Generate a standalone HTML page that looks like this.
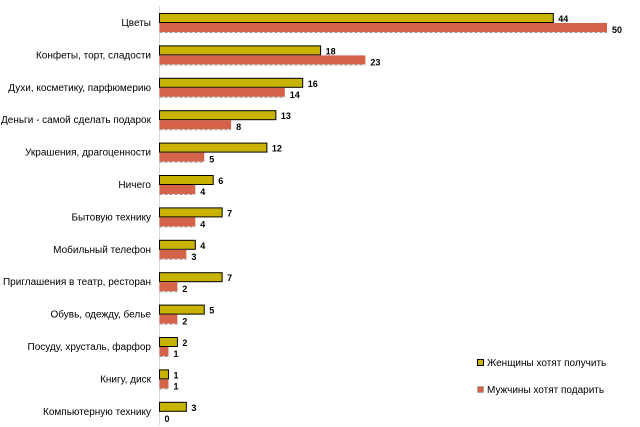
<!DOCTYPE html>
<html><head><meta charset="utf-8"><style>
body{margin:0;background:#fff;}
svg{display:block;font-family:"Liberation Sans",sans-serif;}
</style></head><body>
<svg id="c" width="640" height="427">
<line x1="159.5" y1="6" x2="159.5" y2="425" stroke="#d9d9d9" stroke-width="1"/>
<g id="bars"></g>
<g>
<g>
<rect x="477.5" y="359.5" width="6" height="6" fill="#c8b400" stroke="#000"/>
<text x="487" y="366" font-size="10" fill="#000">Женщины хотят получить</text></g>
<g>
<rect x="477.5" y="386.5" width="6" height="6" fill="#d4634a" stroke="#999" stroke-dasharray="2,1"/>
<text x="487" y="393" font-size="10" fill="#000">Мужчины хотят подарить</text></g>
</g>
</svg>
<script>
const categories=["Цветы","Конфеты, торт, сладости","Духи, косметику, парфюмерию","Деньги - самой сделать подарок","Украшения, драгоценности","Ничего","Бытовую технику","Мобильный телефон","Приглашения в театр, ресторан","Обувь, одежду, белье","Посуду, хрусталь, фарфор","Книгу, диск","Компьютерную технику"];
const women=[44,18,16,13,12,6,7,4,7,5,2,1,3];
const men=[50,23,14,8,5,4,4,3,2,2,1,1,0];
const NS="http://www.w3.org/2000/svg";
const g=document.getElementById('bars');
const x0=159.5,k=8.95,top0=13,step=32.4,bh=10;
const xs=v=>x0+v*k;
function mk(t,a){const e=document.createElementNS(NS,t);for(const n in a)e.setAttribute(n,a[n]);g.appendChild(e);return e;}
categories.forEach((c,i)=>{
 const y=top0+i*step;
 const l=mk('text',{x:151,y:y+bh+3,'font-size':10,'text-anchor':'end',fill:'#000'});
 l.textContent=c;
 
 
 const w=mk('rect',{x:x0,y:y+0.5,width:xs(women[i])-x0,height:bh-1,fill:'#c8b400',stroke:'#000','stroke-width':1});
 
 
 const m=mk('rect',{x:x0,y:y+bh,width:xs(men[i])-x0,height:bh-1,fill:'#d4634a'});
 
 
 const d=mk('line',{x1:x0,x2:xs(men[i]),y1:y+2*bh-0.5,y2:y+2*bh-0.5,stroke:'#999','stroke-dasharray':'3,2'});
 
 
 const tw=mk('text',{x:xs(women[i])+5,y:y+bh-1,'font-size':9,'font-weight':'bold',fill:'#000'});
 tw.textContent=women[i];
 
 
 const tm=mk('text',{x:xs(men[i])+5,y:y+2*bh,'font-size':9,'font-weight':'bold',fill:'#000'});
 tm.textContent=men[i];
 
 
});
</script>
</body></html>
